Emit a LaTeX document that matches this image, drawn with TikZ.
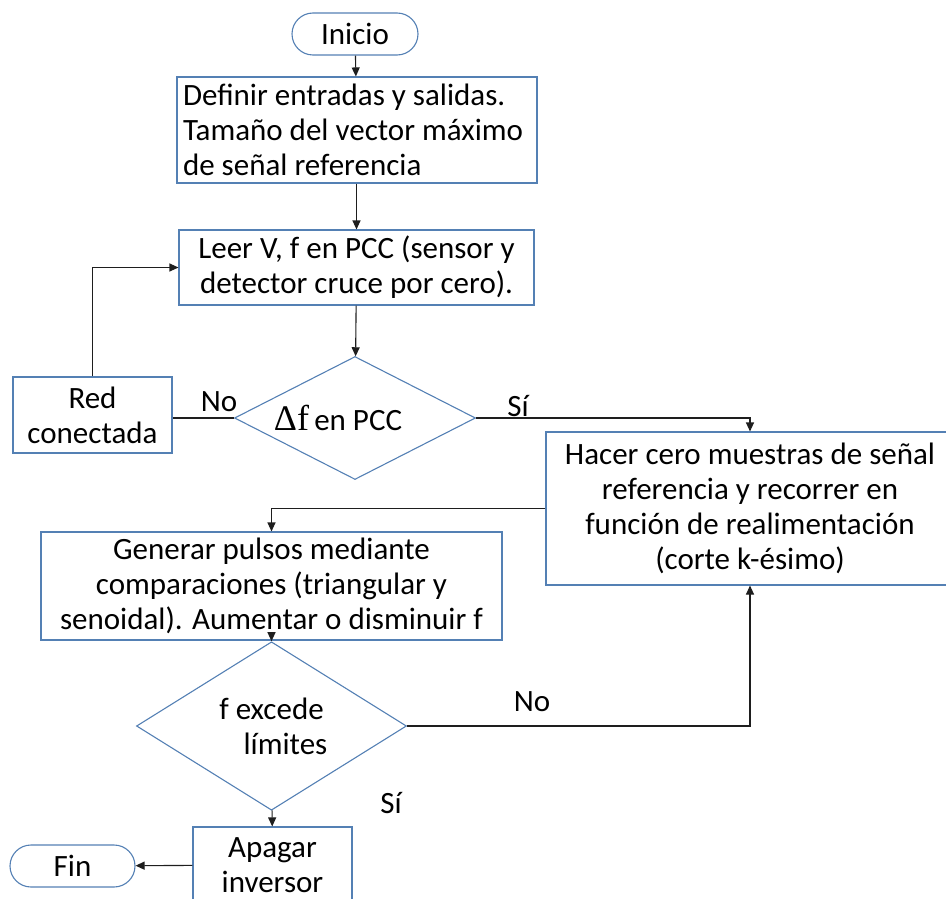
\documentclass[tikz,border=0pt]{standalone}
\usepackage{fontspec}
\setmainfont{Carlito}
\newfontfamily\serifdelta{Liberation Serif}
\usetikzlibrary{shapes.geometric,arrows.meta}
\definecolor{boxline}{RGB}{84,128,180}
\definecolor{flowline}{RGB}{30,30,30}
\begin{document}
\begin{tikzpicture}[x=1pt,y=-1pt,
  every node/.style={font=\fontsize{31}{35}\selectfont, text=black, inner sep=0pt},
  procbox/.style={draw=boxline, line width=1.1pt, rectangle, align=center},
  termbox/.style={draw=boxline, line width=1.1pt, rectangle, rounded corners=21pt, minimum height=42pt},
  decbox/.style={draw=boxline, line width=1.1pt, diamond, align=center},
  flow/.style={draw=flowline, line width=1.1pt},
  arrow/.style={flow, -{Triangle[length=9pt,width=8pt]}},
  lbl/.style={font=\fontsize{31}{35}\selectfont}]
\useasboundingbox (0,0) rectangle (946,899);
\clip (0,0) rectangle (946,899);

% blocks
\node[termbox, minimum width=126pt] (inicio) at (355,34) {Inicio};
\node[procbox, minimum width=360pt, minimum height=106pt, text width=348pt, align=flush left] (def) at (357,130)
  {Definir entradas y salidas.\\Tamaño del vector máximo\\de señal referencia};
\node[procbox, minimum width=355pt, minimum height=75pt] (leer) at (356.5,267.5)
  {Leer V, f en PCC (sensor y\\detector cruce por cero).};
\node[decbox, minimum width=241pt, minimum height=123pt] (df) at (355,418) {};
\node at (338,418) {{\serifdelta\fontsize{36}{35}\selectfont Δf}\,en PCC};
\node[procbox, minimum width=159pt, minimum height=76pt] (red) at (92.5,415)
  {Red\\conectada};
\node[procbox, minimum width=408pt, minimum height=153pt] (hacer) at (750,508.5)
  {Hacer cero muestras de señal\\referencia y recorrer en\\función de realimentación\\(corte k-ésimo)};
\node[procbox, minimum width=461pt, minimum height=108pt] (gen) at (271.5,586)
  {Generar pulsos mediante\\comparaciones (triangular y\\senoidal). Aumentar o disminuir f};
\node[decbox, minimum width=270pt, minimum height=128pt] (fex) at (271.5,726)
  {f excede\\\hspace*{28pt}límites};
\node[procbox, minimum width=159pt, minimum height=76pt] (apagar) at (272.5,865)
  {Apagar\\inversor};
\node[termbox, minimum width=125pt] (fin) at (72.5,866) {Fin};

% connectors
\draw[arrow] (inicio) -- (def);
\draw[arrow] (def.south -| leer.north) -- (leer.north);
\draw[arrow] (leer) -- (df);
\draw[flow] (df.west) -- (df.west -| red.east);
\draw[arrow] (red.north) |- (leer.west);
\draw[arrow] (df.east) -| (hacer.north);
\draw[arrow] (hacer.west) -| (gen.north);
\draw[arrow] (gen) -- (fex);
\draw[arrow] (fex.east) -| (hacer.south);
\draw[arrow] (fex) -- (apagar);
\draw[arrow] (apagar) -- (fin);

% branch labels
\node[lbl] (no1) at (219,402) {No};
\node[lbl] (si1) at (518,406) {Sí};
\node[lbl] (no2) at (532,702) {No};
\node[lbl] (si2) at (391,803) {Sí};
\end{tikzpicture}
\end{document}
